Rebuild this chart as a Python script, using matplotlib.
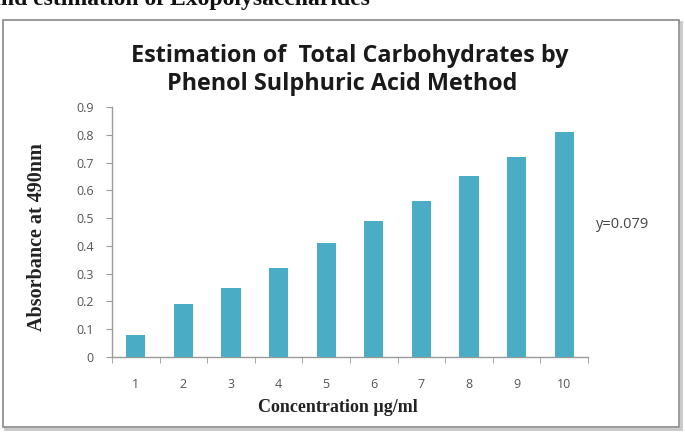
import matplotlib
matplotlib.use('Agg')
import matplotlib.pyplot as plt
from matplotlib.patches import Rectangle

# data
concentration = ['1', '2', '3', '4', '5', '6', '7', '8', '9', '10']
absorbance = [0.08, 0.19, 0.25, 0.32, 0.41, 0.49, 0.56, 0.65, 0.72, 0.81]
yticks = [0, 0.1, 0.2, 0.3, 0.4, 0.5, 0.6, 0.7, 0.8, 0.9]

W, H = 685, 446
fig = plt.figure(figsize=(W / 100, H / 100), dpi=100)

def fx(px):
    return px / W

def fy(py):
    return 1 - py / H

# cut-off heading of the page above the chart
fig.text(fx(-11), fy(5), 'and estimation of Exopolysaccharides', family='Liberation Serif',
         weight='bold', fontsize=17, ha='left', va='baseline', color='#111111')

# chart frame with a little shadow
fig.patches.append(Rectangle((fx(5), fy(429)), fx(676), fy(22) - fy(429), transform=fig.transFigure,
                             facecolor='none', edgecolor='#c8c8c8', linewidth=2.0, zorder=0))
fig.patches.append(Rectangle((fx(3), fy(427)), fx(676), fy(20) - fy(427), transform=fig.transFigure,
                             facecolor='white', edgecolor='#8a8a8a', linewidth=1.2, zorder=1))

ax = fig.add_axes([fx(112), fy(357), fx(476), fy(107) - fy(357)])
ax.set_zorder(3)
ax.set_facecolor('none')
x = list(range(len(concentration)))
ax.bar(x, absorbance, width=0.4, color='#4BACC6', zorder=3)

ax.set_xlim(-0.5, len(concentration) - 0.5)
ax.set_ylim(0, 0.9)
ax.set_yticks(yticks)
ax.set_yticklabels(['0' if v == 0 else f'{v:.1f}' for v in yticks])
ax.set_xticks(x)
ax.set_xticklabels(concentration)
ax.set_xticks([i - 0.5 for i in range(len(concentration) + 1)], minor=True)

for s in ['top', 'right']:
    ax.spines[s].set_visible(False)
for s in ['left', 'bottom']:
    ax.spines[s].set_color('#9a9a9a')
    ax.spines[s].set_linewidth(1.0)

ax.tick_params(axis='y', length=4, color='#9a9a9a', labelsize=9, labelcolor='#555555', pad=9)
ax.tick_params(axis='x', which='major', length=0, labelsize=9, labelcolor='#555555', pad=15)
ax.tick_params(axis='x', which='minor', length=4, color='#9a9a9a')
for lab in ax.get_xticklabels() + ax.get_yticklabels():
    lab.set_family('Open Sans')

fig.text(fx(37), fy(237), 'Absorbance at 490nm', family='Liberation Serif', weight='bold',
         fontsize=14.5, color='#222222', rotation=90, ha='center', va='center')
fig.text(fx(338), fy(407), 'Concentration \u00b5g/ml', family='Liberation Serif', weight='bold',
         fontsize=13, color='#222222', ha='center', va='center')

fig.text(fx(350), fy(62), 'Estimation of  Total Carbohydrates by', family='Open Sans',
         weight='bold', fontsize=16.8, ha='center', va='baseline', color='#1a1a1a')
fig.text(fx(342), fy(90), 'Phenol Sulphuric Acid Method', family='Open Sans',
         weight='bold', fontsize=16.8, ha='center', va='baseline', color='#1a1a1a')

fig.text(fx(596), fy(225), 'y=0.079', family='Open Sans', fontsize=10.5, color='#444444',
         ha='left', va='center')

fig.savefig('out.png', dpi=100)
